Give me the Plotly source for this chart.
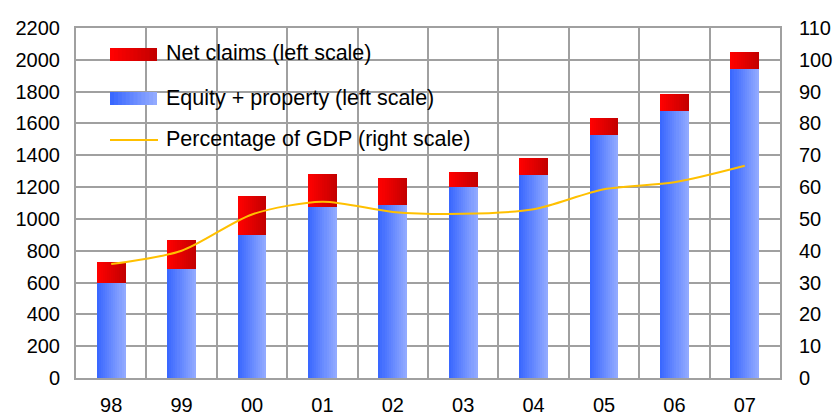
import plotly.graph_objects as go

# ---- data -------------------------------------------------------------
years = ["98", "99", "00", "01", "02", "03", "04", "05", "06", "07"]
equity_property = [600, 685, 900, 1078, 1089, 1202, 1278, 1530, 1681, 1945]
net_claims = [130, 185, 245, 206, 170, 95, 107, 107, 107, 107]
gdp_pct = [35.8, 40.0, 51.4, 55.4, 52.2, 51.6, 53.0, 59.3, 61.5, 66.7]

left_ticks = list(range(0, 2201, 200))
right_ticks = list(range(0, 111, 10))

# ---- styling ----------------------------------------------------------
W, H = 835, 416
ML, MR, MT, MB = 76, 55, 28, 38
PW, PH = W - ML - MR, H - MT - MB
FONT = "Liberation Sans, Arial, sans-serif"
GRID = "#a0a0a0"
RED = ((255, 0, 0), (196, 0, 0))
BLUE = ((58, 104, 255), (146, 170, 255))
GOLD = "#ffc000"
BAR_W = 0.41
N_STRIPS = 14


def mix(c0, c1, t):
    return "rgb({},{},{})".format(*[round(a + (b - a) * t) for a, b in zip(c0, c1)])


def px(x):
    return (x - ML) / PW


def py(y):
    return (H - MB - y) / PH


fig = go.Figure()


def gradient_bars(values, base, colors):
    # horizontal gradient: each strip runs from its left edge to the bar's right edge
    step = BAR_W / N_STRIPS
    for i in range(N_STRIPS):
        fig.add_trace(go.Bar(
            x=years, y=values, base=base,
            offset=-BAR_W / 2 + i * step, width=BAR_W - i * step,
            marker=dict(color=mix(colors[0], colors[1], i / (N_STRIPS - 1)),
                        line=dict(width=0)),
            showlegend=False, hoverinfo="skip",
        ))


gradient_bars(equity_property, None, BLUE)
gradient_bars(net_claims, equity_property, RED)

fig.add_trace(go.Scatter(
    x=years, y=gdp_pct, yaxis="y2", mode="lines",
    line=dict(color=GOLD, width=2, shape="spline", smoothing=0.8),
    showlegend=False, hoverinfo="skip",
))

# ---- legend panel -----------------------------------------------------
shapes = [dict(type="rect", xref="paper", yref="paper", layer="between",
               x0=px(77.5), x1=px(496), y0=py(165), y1=py(32),
               fillcolor="white", line=dict(width=0))]


def swatch(x0, x1, y0, y1, colors, n=12):
    step = (x1 - x0) / n
    for i in range(n):
        shapes.append(dict(type="rect", xref="paper", yref="paper", layer="above",
                           x0=px(x0 + i * step), x1=px(x1), y0=py(y1), y1=py(y0),
                           fillcolor=mix(colors[0], colors[1], i / (n - 1)),
                           line=dict(width=0)))


swatch(110, 157, 48, 61, RED)
swatch(110, 157, 92, 105, BLUE)
shapes.append(dict(type="line", xref="paper", yref="paper", layer="above",
                   x0=px(110), x1=px(158), y0=py(140), y1=py(140),
                   line=dict(color=GOLD, width=2)))

legend_items = [("Net claims (left scale)", 53),
                ("Equity + property (left scale)", 98),
                ("Percentage of GDP (right scale)", 139)]
annotations = [dict(text=t, xref="paper", yref="paper", x=px(164), y=py(yc),
                    xanchor="left", yanchor="middle", showarrow=False,
                    font=dict(family=FONT, size=21.5, color="black"))
               for t, yc in legend_items]

fig.update_layout(
    width=W, height=H,
    margin=dict(l=ML, r=MR, t=MT, b=MB),
    paper_bgcolor="white", plot_bgcolor="white",
    barmode="overlay", bargap=0,
    font=dict(family=FONT, size=20, color="black"),
    shapes=shapes, annotations=annotations,
    showlegend=False,
    xaxis=dict(type="category", range=[-0.5, 9.5], tickson="boundaries",
               showgrid=True, gridcolor=GRID, gridwidth=2,
               showline=True, linecolor=GRID, linewidth=2, mirror=True,
               ticks="", ticklabelstandoff=8, automargin=False, fixedrange=True),
    yaxis=dict(range=[0, 2200], tickvals=left_ticks,
               showgrid=True, gridcolor=GRID, gridwidth=2, zeroline=False,
               showline=True, linecolor=GRID, linewidth=2, mirror=True,
               ticks="", ticklabelstandoff=10, automargin=False, fixedrange=True),
    yaxis2=dict(range=[0, 110], tickvals=right_ticks, overlaying="y", side="right",
                showgrid=False, zeroline=False, ticks="",
                ticklabelstandoff=18, automargin=False, fixedrange=True),
)

fig.write_html("out.html")
